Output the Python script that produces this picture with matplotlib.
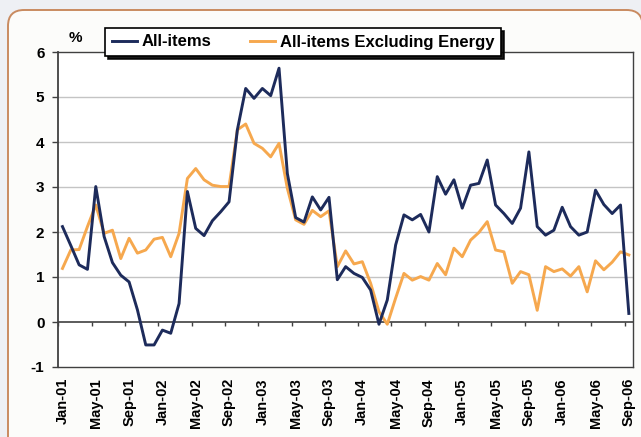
import numpy as np
import pandas as pd
import matplotlib
matplotlib.use("Agg")
import matplotlib.pyplot as plt
from matplotlib.patches import FancyBboxPatch

plt.rcParams['font.family'] = ['Liberation Sans', 'DejaVu Sans']
plt.rcParams['axes.unicode_minus'] = False

# monthly year-on-year change, Jan-01 .. Sep-06
months = pd.date_range("2001-01-01", periods=69, freq="MS")
all_items = [
    2.12, 1.70, 1.27, 1.17, 3.01, 1.90, 1.32, 1.04, 0.89, 0.27,
    -0.51, -0.51, -0.18, -0.25, 0.41, 2.90, 2.08, 1.92, 2.25, 2.45,
    2.67, 4.27, 5.19, 4.97, 5.19, 5.03, 5.64, 3.30, 2.32, 2.22,
    2.78, 2.49, 2.77, 0.94, 1.23, 1.08, 0.99, 0.71, -0.05, 0.49,
    1.71, 2.38, 2.27, 2.39, 2.00, 3.23, 2.84, 3.16, 2.53, 3.04,
    3.08, 3.60, 2.60, 2.41, 2.19, 2.53, 3.78, 2.12, 1.93, 2.04,
    2.55, 2.12, 1.93, 2.00, 2.93, 2.61, 2.41, 2.60, 0.19,
]
excl_energy = [
    1.19, 1.60, 1.61, 2.12, 2.60, 1.97, 2.04, 1.41, 1.86, 1.53,
    1.60, 1.84, 1.88, 1.45, 1.97, 3.19, 3.41, 3.16, 3.04, 3.01,
    3.01, 4.27, 4.40, 3.97, 3.86, 3.67, 3.97, 2.97, 2.27, 2.17,
    2.48, 2.34, 2.47, 1.23, 1.58, 1.29, 1.34, 0.86, 0.23, -0.05,
    0.53, 1.08, 0.93, 1.01, 0.93, 1.30, 1.05, 1.64, 1.45, 1.82,
    1.99, 2.23, 1.60, 1.56, 0.86, 1.12, 1.05, 0.26, 1.23, 1.12,
    1.18, 1.02, 1.23, 0.67, 1.36, 1.16, 1.33, 1.56, 1.49,
]
tick_step = 4

navy = "#1d2b5b"
orange = "#f6a84e"

fig = plt.figure(figsize=(6.41, 4.37), dpi=100)
fig.patch.set_facecolor("#eef0f4")

# rounded card behind the chart
card = FancyBboxPatch((8 / 641, -0.2), 0.99, 1.2 - 10 / 437,
                      boxstyle="round,pad=0,rounding_size=0.025",
                      transform=fig.transFigure, facecolor="#fcfcfa",
                      edgecolor="#c98b60", linewidth=1.4, zorder=-5,
                      mutation_aspect=641 / 437)
fig.patches.append(card)

ax = fig.add_axes([58.3 / 641, 1 - 367 / 437, (633 - 58.3) / 641, (367 - 52) / 437])
ax.set_facecolor("white")

x = np.arange(len(months))
ax.plot(x, excl_energy, color=orange, lw=2.1, label="All-items Excluding Energy", zorder=3)
ax.plot(x, all_items, color=navy, lw=2.1, label="All-items", zorder=4)

ax.set_xlim(-0.5, len(months) - 0.5)
ax.set_ylim(-1, 6)
ax.set_yticks(range(-1, 7))
for v in range(1, 6):
    ax.axhline(v, color="#c4c4c4", lw=1.0, zorder=1)

# category axis crossing at zero, with tick marks between month groups
ax.axhline(0, color="#404040", lw=1.2, zorder=2)
bounds = np.arange(-0.5, len(months), tick_step)
ax.vlines(bounds, -0.09, 0, color="#404040", lw=1.0, zorder=2)

ax.set_xticks(x[::tick_step])
ax.set_xticklabels([m.strftime("%b-%y") for m in months[::tick_step]],
                   rotation=90, fontsize=10.5, fontweight="bold")
ax.tick_params(axis="x", length=0, pad=8)
ax.tick_params(axis="y", length=4, width=1, pad=6, labelsize=11, color="#404040")
for lab in ax.get_yticklabels():
    lab.set_fontweight("bold")

for side in ["left", "bottom", "right", "top"]:
    ax.spines[side].set_color("#404040")
    ax.spines[side].set_linewidth(1.0)
ax.spines["left"].set_linewidth(1.3)

fig.text(75 / 641, 1 - 38 / 437, "%", fontsize=11, fontweight="bold", ha="center", va="center")

handles, labels = ax.get_legend_handles_labels()
leg = fig.legend(handles[::-1], labels[::-1], loc="center", ncol=2,
                 bbox_to_anchor=(303 / 641, 1 - 42 / 437),
                 frameon=True, fancybox=False,
                 shadow={"color": "black", "alpha": 0.9},
                 prop={"weight": "bold", "size": 12},
                 handlelength=1.5, handletextpad=0.3, columnspacing=2.3,
                 borderpad=0.4)
leg.get_frame().set_edgecolor("black")
leg.get_frame().set_linewidth(1.2)
leg.set_zorder(10)

fig.savefig("out.png", dpi=100, facecolor=fig.get_facecolor())
